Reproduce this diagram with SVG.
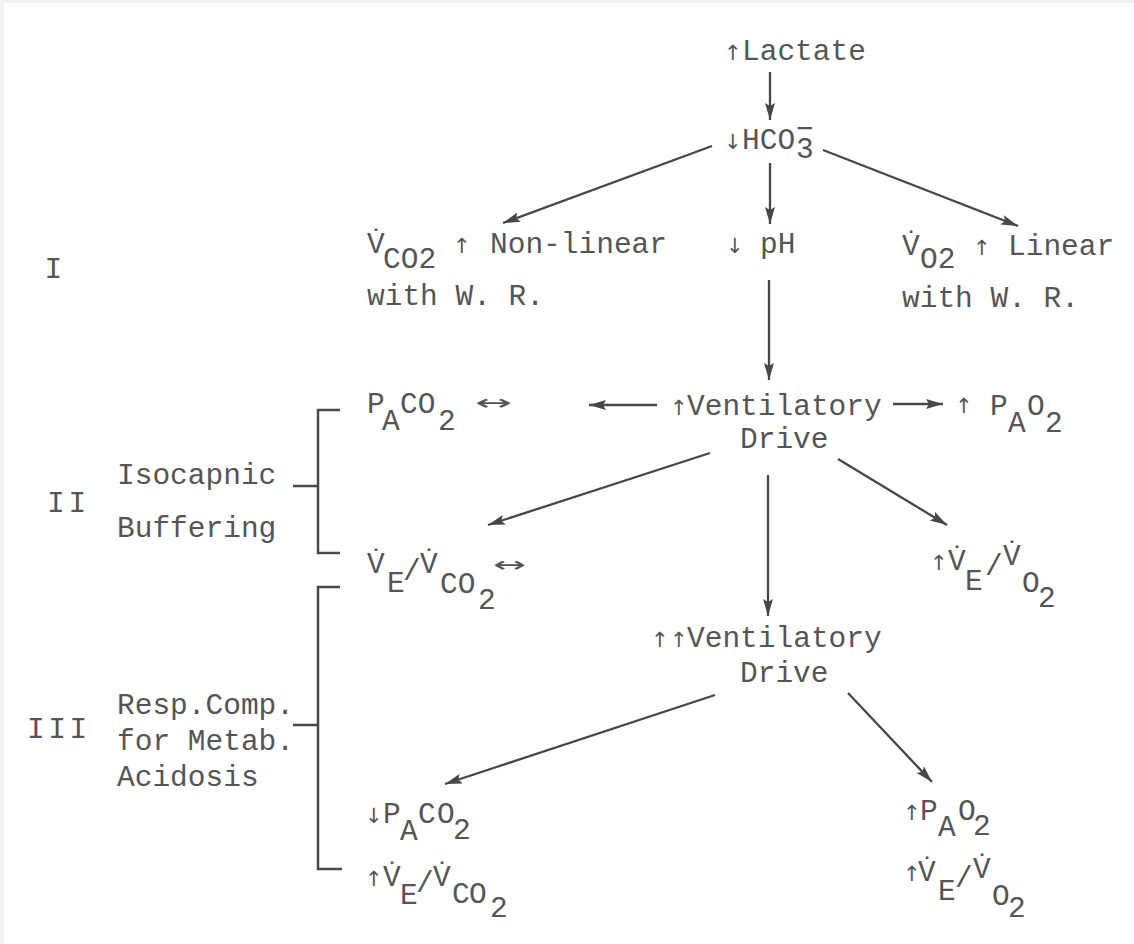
<svg xmlns="http://www.w3.org/2000/svg" width="1134" height="944" viewBox="0 0 1134 944">
<style>
text{font-family:"Liberation Mono","DejaVu Sans Mono",monospace;font-size:29.5px;fill:#555}
.a{font-family:"DejaVu Sans","Liberation Sans",sans-serif;font-size:21px}
.c{stroke:#474747;stroke-width:2.3;fill:none}
.br{stroke:#4a4a4a;stroke-width:2.5;fill:none}
</style>
<defs>
<marker id="ah" markerUnits="userSpaceOnUse" markerWidth="18" markerHeight="12" refX="17" refY="5.5" orient="auto">
<path d="M0,0.5 L17,5.5 L0,10.5 L3,5.5 Z" fill="#474747"/>
</marker>
</defs>
<rect width="1134" height="944" fill="#fff"/>
<rect width="1134" height="3" fill="#f2f2f2"/>
<rect width="4" height="944" fill="#f2f2f2"/>

<g id="connectors">
<line class="c" x1="770" y1="72" x2="770" y2="120" marker-end="url(#ah)"/>
<line class="c" x1="770" y1="163" x2="770" y2="224" marker-end="url(#ah)"/>
<line class="c" x1="712" y1="146" x2="503" y2="223" marker-end="url(#ah)"/>
<line class="c" x1="823" y1="150" x2="1018" y2="226" marker-end="url(#ah)"/>
<line class="c" x1="769" y1="280" x2="769" y2="380" marker-end="url(#ah)"/>
<line class="c" x1="657" y1="405" x2="589" y2="405" marker-end="url(#ah)"/>
<line class="c" x1="893" y1="404" x2="943" y2="404" marker-end="url(#ah)"/>
<line class="c" x1="710" y1="453" x2="488" y2="525" marker-end="url(#ah)"/>
<line class="c" x1="768" y1="475" x2="768" y2="616" marker-end="url(#ah)"/>
<line class="c" x1="838" y1="459" x2="947" y2="525" marker-end="url(#ah)"/>
<line class="c" x1="715" y1="695" x2="445" y2="784" marker-end="url(#ah)"/>
<line class="c" x1="848" y1="693" x2="932" y2="782" marker-end="url(#ah)"/>
</g>

<g id="brackets">
<path class="br" d="M340,410 H318 V553 H340 M293,486 H318"/>
<path class="br" d="M340,587 H318 V869 H342 M293,725 H318"/>
</g>

<g id="phase-labels">
<text x="44.6" y="278">I</text>
<text x="47" y="512" letter-spacing="3.8">II</text>
<text x="27" y="738" letter-spacing="3.5">III</text>
<text x="117" y="484">Isocapnic</text>
<text x="117" y="537">Buffering</text>
<text x="117" y="714">Resp.Comp.</text>
<text x="117" y="750">for Metab.</text>
<text x="117" y="786">Acidosis</text>
</g>

<g id="lactate">
<text><tspan class="a" x="724" y="60">↑</tspan><tspan x="742" y="60">Lactate</tspan></text>
</g>

<g id="hco3">
<text><tspan class="a" x="724" y="149">↓</tspan><tspan x="742" y="149">HCO</tspan><tspan x="796" y="158">3</tspan><tspan x="796" y="138">−</tspan></text>
</g>

<g id="ph">
<text><tspan class="a" x="726" y="253">↓</tspan><tspan x="760" y="253">pH</tspan></text>
</g>

<g id="vco2">
<text><tspan x="367" y="253">V̇</tspan><tspan x="383" y="268">CO2</tspan><tspan class="a" x="453" y="253">↑</tspan><tspan x="490" y="253">Non-linear</tspan></text>
<text x="367" y="305">with W. R.</text>
</g>

<g id="vo2">
<text><tspan x="902" y="255">V̇</tspan><tspan x="920" y="268">O2</tspan><tspan class="a" x="973" y="255">↑</tspan><tspan x="1008" y="255">Linear</tspan></text>
<text x="902" y="307">with W. R.</text>
</g>

<g id="vent-drive">
<text><tspan class="a" x="670" y="415">↑</tspan><tspan x="687" y="415">Ventilatory</tspan></text>
<text x="740" y="448">Drive</text>
</g>

<g id="paco2-iso">
<text><tspan x="367" y="413">P</tspan><tspan x="382" y="430">A</tspan><tspan x="400" y="413">CO</tspan><tspan x="438" y="430">2</tspan><tspan class="a" x="475" y="410" textLength="37" lengthAdjust="spacingAndGlyphs">↔</tspan></text>
</g>

<g id="pao2-up">
<text><tspan class="a" x="955" y="413">↑</tspan><tspan x="990" y="415">P</tspan><tspan x="1008" y="432">A</tspan><tspan x="1027" y="415">O</tspan><tspan x="1045" y="432">2</tspan></text>
</g>

<g id="ve-vco2-iso">
<text><tspan x="367" y="573">V̇</tspan><tspan x="387" y="592">E</tspan><tspan x="403" y="580">/</tspan><tspan x="420" y="573">V̇</tspan><tspan x="440" y="593">CO</tspan><tspan x="478" y="609">2</tspan><tspan class="a" x="493" y="572" textLength="33" lengthAdjust="spacingAndGlyphs">↔</tspan></text>
</g>

<g id="ve-vo2-up">
<text><tspan class="a" x="930" y="570">↑</tspan><tspan x="948" y="570">V̇</tspan><tspan x="965" y="590">E</tspan><tspan x="985" y="575">/</tspan><tspan x="1003" y="565">V̇</tspan><tspan x="1022" y="592">O</tspan><tspan x="1038" y="607">2</tspan></text>
</g>

<g id="vent-drive-2">
<text><tspan class="a" x="651" y="647">↑</tspan><tspan class="a" x="670" y="647">↑</tspan><tspan x="687" y="647">Ventilatory</tspan></text>
<text x="740" y="682">Drive</text>
</g>

<g id="paco2-down">
<text><tspan class="a" x="365" y="823">↓</tspan><tspan x="383" y="823">P</tspan><tspan x="400" y="840">A</tspan><tspan x="418" y="823">C</tspan><tspan x="437" y="823">O</tspan><tspan x="453" y="839">2</tspan></text>
</g>

<g id="ve-vco2-up">
<text><tspan class="a" x="365" y="886">↑</tspan><tspan x="383" y="886">V̇</tspan><tspan x="400" y="904">E</tspan><tspan x="416" y="892">/</tspan><tspan x="433" y="886">V̇</tspan><tspan x="452" y="903">C</tspan><tspan x="469" y="903">O</tspan><tspan x="490" y="917">2</tspan></text>
</g>

<g id="pao2-up-2">
<text><tspan class="a" x="903" y="820">↑</tspan><tspan x="920" y="820">P</tspan><tspan x="938" y="836">A</tspan><tspan x="958" y="820">O</tspan><tspan x="973" y="835">2</tspan></text>
</g>

<g id="ve-vo2-up-2">
<text><tspan class="a" x="903" y="881">↑</tspan><tspan x="918" y="881">V̇</tspan><tspan x="938" y="900">E</tspan><tspan x="955" y="887">/</tspan><tspan x="973" y="878">V̇</tspan><tspan x="992" y="905">O</tspan><tspan x="1008" y="917">2</tspan></text>
</g>
</svg>
